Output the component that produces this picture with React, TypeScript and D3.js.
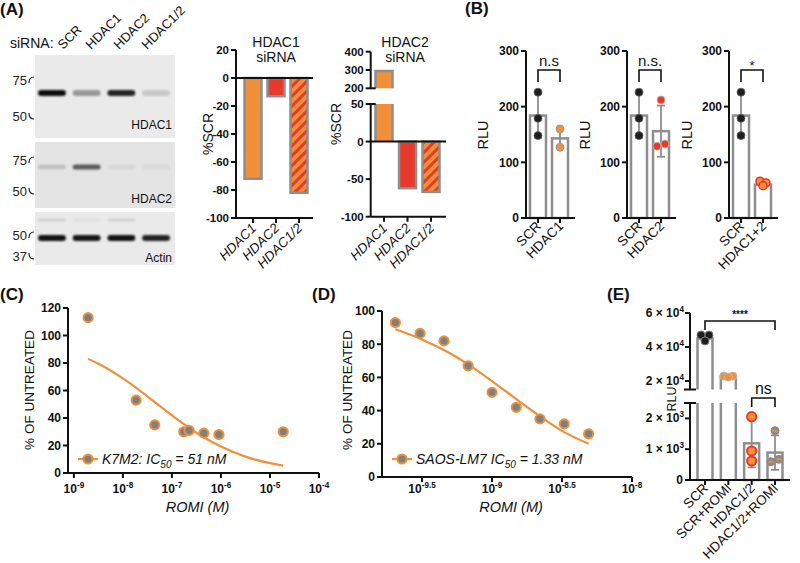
import React from "react";
import * as d3 from "d3";

const FONT = "'Liberation Sans', Arial, Helvetica, sans-serif";
const ORANGE = "#f0903a";
const RED = "#e8392b";
const GRAY = "#8e8e8e";
const INK = "#111";

// ---------- Panel A: western blot ----------
const blotLanes = ["SCR", "HDAC1", "HDAC2", "HDAC1/2"];
const hdac1BandIntensity = [0.95, 0.35, 0.85, 0.15];
const hdac2BandIntensity = [0.14, 0.6, 0.05, 0.04];
const actinBandIntensity = [0.92, 0.9, 0.92, 0.85];
const actinFaintBandIntensity = [0.12, 0.04, 0.1, 0.0];

// ---------- Panel A: knockdown bars ----------
const kdCategories = ["HDAC1", "HDAC2", "HDAC1/2"];
const hdac1SiRNAValues = [-72, -13, -82];
const hdac2SiRNAValues = [295, -62, -67];
const kd1Ticks = [20, 0, -20, -40, -60, -80, -100];
const kd2UpperTicks = [200, 300, 400];
const kd2LowerTicks = [-100, -50, 0, 50];

// ---------- Panel B ----------
const bCategories = [["SCR", "HDAC1"], ["SCR", "HDAC2"], ["SCR", "HDAC1+2"]];
const bScrPoints = [226, 179, 148];
const bKnockPoints = [[160, 127], [212, 129, 133], [66, 63, 58]];
const bMeans = [[184, 143], [184, 156], [184, 60]];
const bSD = [[40, 18], [40, 46], [40, 5]];
const bSignif = ["n.s", "n.s.", "*"];
const bTicks = [0, 100, 200, 300];

// ---------- Panel C ----------
const cConc = [1.95e-9, 1.86e-8, 4.47e-8, 1.74e-7, 2.24e-7, 4.47e-7, 9.1e-7, 1.86e-5];
const cViability = [113, 53, 35, 30, 31, 29, 28, 30];
const cFitConc = [1.95e-9, 3.16e-9, 1e-8, 3.16e-8, 1e-7, 3.16e-7, 1e-6, 3.16e-6, 1e-5, 1.86e-5];
const cFitValue = [83, 79.4, 68.8, 55.8, 42, 29.3, 19.2, 11.9, 7.2, 5.4];
const cXTicks = ["-9", "-8", "-7", "-6", "-5", "-4"];
const cYTicks = [0, 20, 40, 60, 80, 100, 120];

// ---------- Panel D ----------
const dConc = [2.04e-10, 3.06e-10, 4.54e-10, 6.75e-10, 1.0e-9, 1.49e-9, 2.2e-9, 3.28e-9, 4.9e-9];
const dViability = [93, 86.5, 82, 67, 51, 42, 35, 32, 26];
const dFitConc = [2.04e-10, 3.16e-10, 5.01e-10, 7.94e-10, 1.26e-9, 2.0e-9, 3.16e-9, 4.9e-9];
const dFitValue = [89, 82.9, 74.5, 63.8, 51.5, 39, 27.8, 20];
const dXTicks = ["-9.5", "-9", "-8.5", "-8"];
const dYTicks = [0, 20, 40, 60, 80, 100];

// ---------- Panel E ----------
const eCategories = ["SCR", "SCR+ROMI", "HDAC1/2", "HDAC1/2+ROMI"];
const eMeans = [45000, 22500, 1190, 890];
const eSD = [1500, 500, 780, 560];
const ePoints = [[47000, 47000, 43600], [22900, 22900, 22300], [2055, 942, 617], [1600, 672, 594]];
const eUpperTicks = [20000, 40000, 60000];
const eLowerTicks = [0, 1000, 2000];

const axisStroke = { stroke: INK, strokeWidth: 2, fill: "none" } as const;

function YTickLabel({ x, y, text, size = 11.5 }: { x: number; y: number; text: string; size?: number }) {
  return (
    <text x={x} y={y} dy="0.36em" textAnchor="end" fontSize={size} fontWeight="bold" fill={INK}>
      {text}
    </text>
  );
}

function Pow({ x, y, base, exp, size = 12, anchor = "middle" }: any) {
  return (
    <text x={x} y={y} textAnchor={anchor} fontSize={size} fontWeight="bold" fill={INK}>
      {base}
      <tspan dy={-size * 0.45} fontSize={size * 0.68}>{exp}</tspan>
    </text>
  );
}

function RotLabel({ x, y, text, size = 14, italic = false }: any) {
  return (
    <text transform={`translate(${x},${y}) rotate(-90)`} textAnchor="middle" fontSize={size} fontStyle={italic ? "italic" : "normal"} fill={INK}>
      {text}
    </text>
  );
}

function DiagLabel({ x, y, text, size = 13, italic = false }: any) {
  return (
    <text transform={`translate(${x},${y}) rotate(-45)`} textAnchor="end" fontSize={size} fontStyle={italic ? "italic" : "normal"} fill={INK}>
      {text}
    </text>
  );
}

// ---------- Panel A blot ----------
function Blot() {
  const lane = d3.scaleBand<string>().domain(blotLanes).range([36, 172]).paddingInner(0.08);
  const labelX = d3.scalePoint<string>().domain(blotLanes).range([63, 147]);
  const strips = [
    { y0: 55, y1: 138, fill: "#eaeaea", bands: [{ y: 93, h: 6, v: hdac1BandIntensity }], name: "HDAC1", nameY: 129,
      markers: [{ t: "75", y: 80, top: true }, { t: "50", y: 116, top: false }] },
    { y0: 142, y1: 208, fill: "#e4e4e4", bands: [{ y: 167, h: 5, v: hdac2BandIntensity }], name: "HDAC2", nameY: 203,
      markers: [{ t: "75", y: 160, top: true }, { t: "50", y: 191, top: false }] },
    { y0: 212, y1: 265, fill: "#eaeaea", bands: [{ y: 238, h: 6, v: actinBandIntensity }, { y: 220, h: 3, v: actinFaintBandIntensity }], name: "Actin", nameY: 262,
      markers: [{ t: "50", y: 235, top: true }, { t: "37", y: 256, top: false }] },
  ];
  return (
    <g>
      <text x={0} y={15} fontSize={17} fontWeight="bold" fill={INK}>(A)</text>
      <text x={10} y={48} fontSize={14} fill={INK}>siRNA:</text>
      {blotLanes.map((l) => (
        <text key={l} transform={`translate(${labelX(l)},${50}) rotate(-45)`} fontSize={13} fill={INK}>{l}</text>
      ))}
      {strips.map((s, si) => (
        <g key={si}>
          <rect x={35} y={s.y0} width={140} height={s.y1 - s.y0} fill={s.fill} />
          {s.bands.map((b, bi) =>
            blotLanes.map((l, li) => (
              <rect key={`${bi}-${li}`} x={(lane(l) as number) + 2} y={b.y - b.h / 2} width={lane.bandwidth() - 4} height={b.h} rx={b.h / 2}
                fill="#000" opacity={b.v[li]} filter="url(#blur)" />
            ))
          )}
          <text x={172} y={s.nameY} textAnchor="end" fontSize={12} fill={INK}>{s.name}</text>
          {s.markers.map((m, mi) => (
            <g key={mi}>
              <text x={27} y={m.y} dy="0.36em" textAnchor="end" fontSize={13} fill="#222">{m.t}</text>
              <path d={m.top ? `M29,${m.y + 3} Q29,${m.y - 3} 34,${m.y - 3}` : `M29,${m.y - 3} Q29,${m.y + 3} 34,${m.y + 3}`} stroke="#222" strokeWidth={1.2} fill="none" />
            </g>
          ))}
        </g>
      ))}
    </g>
  );
}

// ---------- Panel A knockdown charts ----------
function Knockdown() {
  const fills = [ORANGE, RED, "url(#stripes)"];
  const bw = 17;
  const ax1 = 236;
  const y1 = d3.scaleLinear().domain([-100, 20]).range([218, 50]);
  const x1 = d3.scalePoint<string>().domain(kdCategories).range([253, 299]);
  const ax2 = 370.7;
  const yU = d3.scaleLinear().domain([200, 400]).range([88.3, 51.7]);
  const yL = d3.scaleLinear().domain([-100, 50]).range([216.7, 104]);
  const x2 = d3.scalePoint<string>().domain(kdCategories).range([384, 431]);
  return (
    <g>
      <text x={276} y={47} textAnchor="middle" fontSize={14} fill={INK}>HDAC1</text>
      <text x={276} y={62} textAnchor="middle" fontSize={14} fill={INK}>siRNA</text>
      <RotLabel x={213} y={134} text="%SCR" />
      {hdac1SiRNAValues.map((v, i) => {
        const cx = x1(kdCategories[i]) as number;
        return <rect key={i} x={cx - bw / 2} y={y1(0)} width={bw} height={y1(v) - y1(0)} fill={fills[i]} stroke={GRAY} strokeWidth={2.5} />;
      })}
      <line x1={ax1} x2={313} y1={y1(0)} y2={y1(0)} {...axisStroke} />
      <line x1={ax1} x2={ax1} y1={y1(20)} y2={y1(-100)} {...axisStroke} />
      <line x1={ax1} x2={313} y1={y1(-100)} y2={y1(-100)} {...axisStroke} />
      {kd1Ticks.map((t) => (
        <g key={t}>
          <line x1={ax1 - 5} x2={ax1} y1={y1(t)} y2={y1(t)} {...axisStroke} />
          <YTickLabel x={ax1 - 7} y={y1(t)} text={String(t)} />
        </g>
      ))}
      {kdCategories.map((c) => (
        <g key={c}>
          <line x1={x1(c)} x2={x1(c)} y1={y1(-100)} y2={y1(-100) + 5} {...axisStroke} />
          <DiagLabel x={(x1(c) as number) + 4} y={229} text={c} size={13.5} italic />
        </g>
      ))}

      <text x={405} y={47} textAnchor="middle" fontSize={14} fill={INK}>HDAC2</text>
      <text x={405} y={62} textAnchor="middle" fontSize={14} fill={INK}>siRNA</text>
      <RotLabel x={341} y={124} text="%SCR" />
      {hdac2SiRNAValues.map((v, i) => {
        const cx = x2(kdCategories[i]) as number;
        const l = cx - bw / 2, r = cx + bw / 2;
        if (v > 50) {
          return (
            <g key={i}>
              <rect x={l} y={yU(v)} width={bw} height={yU(200) - yU(v)} fill={fills[i]} />
              <path d={`M${l},${yU(200)} V${yU(v)} H${r} V${yU(200)}`} stroke={GRAY} strokeWidth={2.5} fill="none" />
              <rect x={l} y={yL(50)} width={bw} height={yL(0) - yL(50)} fill={fills[i]} />
              <path d={`M${l},${yL(50)} V${yL(0)} M${r},${yL(50)} V${yL(0)}`} stroke={GRAY} strokeWidth={2.5} fill="none" />
            </g>
          );
        }
        return <rect key={i} x={l} y={yL(0)} width={bw} height={yL(v) - yL(0)} fill={fills[i]} stroke={GRAY} strokeWidth={2.5} />;
      })}
      <line x1={ax2} x2={446} y1={yL(0)} y2={yL(0)} {...axisStroke} />
      <line x1={ax2} x2={ax2} y1={yU(400)} y2={yU(200)} {...axisStroke} />
      <line x1={ax2} x2={ax2} y1={yL(50)} y2={yL(-100)} {...axisStroke} />
      <line x1={ax2} x2={446} y1={yL(-100)} y2={yL(-100)} {...axisStroke} />
      {kd2UpperTicks.map((t) => (
        <g key={t}>
          <line x1={ax2 - 5} x2={t === 200 ? ax2 + 5 : ax2} y1={yU(t)} y2={yU(t)} {...axisStroke} />
          <YTickLabel x={ax2 - 7} y={yU(t)} text={String(t)} />
        </g>
      ))}
      {kd2LowerTicks.map((t) => (
        <g key={t}>
          <line x1={ax2 - 5} x2={t === 50 ? ax2 + 5 : ax2} y1={yL(t)} y2={yL(t)} {...axisStroke} />
          <YTickLabel x={ax2 - 7} y={yL(t)} text={String(t)} />
        </g>
      ))}
      {kdCategories.map((c) => (
        <g key={c}>
          <line x1={x2(c)} x2={x2(c)} y1={yL(-100)} y2={yL(-100) + 5} {...axisStroke} />
          <DiagLabel x={(x2(c) as number) + 4} y={229} text={c} size={13.5} italic />
        </g>
      ))}
    </g>
  );
}

// ---------- Panel B ----------
function PanelB() {
  const axes = [526, 627, 729];
  const y = d3.scaleLinear().domain([0, 300]).range([218, 51]);
  const bw = 16;
  const knockStyle = [
    { fill: ORANGE, stroke: "#9a9a9a", sw: 1 },
    { fill: RED, stroke: "#c0c0c0", sw: 0.8 },
    { fill: ORANGE, stroke: RED, sw: 1.6 },
  ];
  const jitter = [[[0, 0, 0], [0, 0]], [[0, 0, 0], [0, -4, 4]], [[0, 0, 0], [-3, 3, 0]]];
  return (
    <g>
      <text x={465} y={14} fontSize={17} fontWeight="bold" fill={INK}>(B)</text>
      {axes.map((ax, gi) => {
        const x = d3.scalePoint<string>().domain(bCategories[gi]).range([ax + 12, ax + 34]);
        const pts = [bScrPoints, bKnockPoints[gi]];
        const c1 = x(bCategories[gi][0]) as number;
        const c2 = x(bCategories[gi][1]) as number;
        return (
          <g key={gi}>
            <RotLabel x={[488, 590, 692][gi]} y={135} text="RLU" size={14.5} />
            {bCategories[gi].map((c, ci) => {
              const cx = x(c) as number;
              const m = bMeans[gi][ci];
              const sd = bSD[gi][ci];
              return (
                <g key={c}>
                  <rect x={cx - bw / 2} y={y(m)} width={bw} height={y(0) - y(m)} fill="#fff" stroke={GRAY} strokeWidth={2.5} />
                  <line x1={cx} x2={cx} y1={y(m - sd)} y2={y(m + sd)} stroke={GRAY} strokeWidth={1.8} />
                  <line x1={cx - 4} x2={cx + 4} y1={y(m + sd)} y2={y(m + sd)} stroke={GRAY} strokeWidth={1.8} />
                  <line x1={cx - 4} x2={cx + 4} y1={y(m - sd)} y2={y(m - sd)} stroke={GRAY} strokeWidth={1.8} />
                  {pts[ci].map((p, pi) => (
                    <circle key={pi} cx={cx + jitter[gi][ci][pi]} cy={y(p)} r={4}
                      fill={ci === 0 ? "#1e1e1e" : knockStyle[gi].fill}
                      stroke={ci === 0 ? "#666" : knockStyle[gi].stroke}
                      strokeWidth={ci === 0 ? 0.8 : knockStyle[gi].sw} />
                  ))}
                </g>
              );
            })}
            <line x1={ax} x2={ax} y1={y(300)} y2={y(0)} {...axisStroke} />
            <line x1={ax} x2={ax + 49} y1={y(0)} y2={y(0)} {...axisStroke} />
            {bTicks.map((t) => (
              <g key={t}>
                <line x1={ax - 5} x2={ax} y1={y(t)} y2={y(t)} {...axisStroke} />
                <YTickLabel x={ax - 7} y={y(t)} text={String(t)} size={12} />
              </g>
            ))}
            {bCategories[gi].map((c) => (
              <g key={c}>
                <line x1={x(c)} x2={x(c)} y1={y(0)} y2={y(0) + 5} {...axisStroke} />
                <DiagLabel x={(x(c) as number) + 4} y={227} text={c} size={13.5} />
              </g>
            ))}
            <path d={`M${c1},82 V70 H${c2} V82`} stroke={INK} strokeWidth={1.6} fill="none" />
            <text x={(c1 + c2) / 2} y={gi === 2 ? 70 : 66} textAnchor="middle" fontSize={gi === 2 ? 13 : 15} fill={INK}>{bSignif[gi]}</text>
          </g>
        );
      })}
    </g>
  );
}

// ---------- Panels C and D (dose response) ----------
function DosePanel(props: {
  letter: string; letterX: number; x: d3.ScaleLogarithmic<number, number>; y: d3.ScaleLinear<number, number>;
  conc: number[]; vals: number[]; fitConc: number[]; fitVals: number[]; xTicks: string[]; yTicks: number[];
  ax: number; yLabelX: number; legendX: number; legendName: string; legendIC: string;
}) {
  const { x, y, ax } = props;
  const line = d3.line<number>().x((_, i) => x(props.fitConc[i])).y((v) => y(v)).curve(d3.curveMonotoneX);
  const [xr0, xr1] = x.range();
  const titleX = (xr0 + xr1) / 2 + 4;
  return (
    <g>
      <text x={props.letterX} y={300} fontSize={17} fontWeight="bold" fill={INK}>{props.letter}</text>
      <RotLabel x={props.yLabelX} y={390} text="% OF UNTREATED" size={13.5} />
      <path d={line(props.fitVals) || ""} stroke={ORANGE} strokeWidth={2.2} fill="none" />
      {props.vals.map((v, i) => (
        <circle key={i} cx={x(props.conc[i])} cy={y(v)} r={4.6} fill="#7f7f7f" stroke={ORANGE} strokeWidth={2} />
      ))}
      <line x1={ax} x2={ax} y1={y(props.yTicks[props.yTicks.length - 1])} y2={y(0)} {...axisStroke} />
      <line x1={ax} x2={xr1} y1={y(0)} y2={y(0)} {...axisStroke} />
      {props.yTicks.map((t) => (
        <g key={t}>
          <line x1={ax - 5} x2={ax} y1={y(t)} y2={y(t)} {...axisStroke} />
          <YTickLabel x={ax - 7} y={y(t)} text={String(t)} size={12} />
        </g>
      ))}
      {props.xTicks.map((e) => {
        const px = x(Math.pow(10, +e));
        return (
          <g key={e}>
            <line x1={px} x2={px} y1={y(0)} y2={y(0) + 5} {...axisStroke} />
            <Pow x={px} y={493} base="10" exp={e} size={12} />
          </g>
        );
      })}
      <text x={titleX} y={512} textAnchor="middle" fontSize={14.5} fontStyle="italic" fill={INK}>ROMI (M)</text>
      <line x1={props.legendX} x2={props.legendX + 20} y1={459} y2={459} stroke={ORANGE} strokeWidth={2.2} />
      <circle cx={props.legendX + 10} cy={459} r={4.6} fill="#7f7f7f" stroke={ORANGE} strokeWidth={2} />
      <text x={props.legendX + 24} y={464} fontSize={14} fontStyle="italic" fill={INK}>
        {props.legendName}IC<tspan dy={4} fontSize={10}>50</tspan><tspan dy={-4}>{` = ${props.legendIC}`}</tspan>
      </text>
    </g>
  );
}

function PanelC() {
  const x = d3.scaleLog().domain([Math.pow(10, -9.12), 1e-4]).range([68, 319]);
  const y = d3.scaleLinear().domain([0, 120]).range([473, 308]);
  return (
    <DosePanel letter="(C)" letterX={0} x={x} y={y} conc={cConc} vals={cViability} fitConc={cFitConc} fitVals={cFitValue}
      xTicks={cXTicks} yTicks={cYTicks} ax={68} yLabelX={34} legendX={78} legendName="K7M2: " legendIC="51 nM" />
  );
}

function PanelD() {
  const x = d3.scaleLog().domain([Math.pow(10, -9.786), 1e-8]).range([382, 632]);
  const y = d3.scaleLinear().domain([0, 100]).range([477, 311]);
  return (
    <DosePanel letter="(D)" letterX={312} x={x} y={y} conc={dConc} vals={dViability} fitConc={dFitConc} fitVals={dFitValue}
      xTicks={dXTicks} yTicks={dYTicks} ax={382} yLabelX={352} legendX={392} legendName="SAOS-LM7 " legendIC="1.33 nM" />
  );
}

// ---------- Panel E ----------
function PanelE() {
  const ax = 690;
  const yU = d3.scaleLinear().domain([15000, 60000]).range([389.5, 313]);
  const yL = d3.scaleLinear().domain([0, 2500]).range([480, 403]);
  const x = d3.scalePoint<string>().domain(eCategories).range([705, 775]);
  const bw = 15;
  const jitter = [[-4, 4, 0], [-4.5, 4.5, 0], [0, 0, 0], [0, 4, -4]];
  const ptStyle = [
    { fill: "#1e1e1e", stroke: "#777", sw: 1 },
    { fill: ORANGE, stroke: "#b8b8b8", sw: 1 },
    { fill: ORANGE, stroke: RED, sw: 2 },
    { fill: "#8a8a8a", stroke: "#8a8a8a", sw: 1 },
  ];
  const yAny = (v: number) => (v > 2500 ? yU(v) : yL(v));
  const fmtSup = (v: number) => {
    const e = Math.floor(Math.log10(v));
    return { m: Math.round(v / Math.pow(10, e)), e };
  };
  return (
    <g>
      <text x={607} y={300} fontSize={17} fontWeight="bold" fill={INK}>(E)</text>
      <RotLabel x={676} y={399} text="RLU" size={12.5} />
      {eCategories.map((c, i) => {
        const cx = x(c) as number;
        const l = cx - bw / 2, r = cx + bw / 2;
        const m = eMeans[i];
        const sd = eSD[i];
        return (
          <g key={c}>
            {m > 2500 ? (
              <g>
                <rect x={l} y={yU(m)} width={bw} height={yU(15000) - yU(m)} fill="#fff" />
                <path d={`M${l},${yU(15000)} V${yU(m)} H${r} V${yU(15000)}`} stroke={GRAY} strokeWidth={2.5} fill="none" />
                <path d={`M${l},${yL(2500)} V${yL(0)} M${r},${yL(2500)} V${yL(0)}`} stroke={GRAY} strokeWidth={2.5} fill="none" />
              </g>
            ) : (
              <rect x={l} y={yL(m)} width={bw} height={yL(0) - yL(m)} fill="#fff" stroke={GRAY} strokeWidth={2.5} />
            )}
            <line x1={cx} x2={cx} y1={yAny(m - sd)} y2={yAny(m + sd)} stroke={GRAY} strokeWidth={1.8} />
            <line x1={cx - 4} x2={cx + 4} y1={yAny(m + sd)} y2={yAny(m + sd)} stroke={GRAY} strokeWidth={1.8} />
            <line x1={cx - 4} x2={cx + 4} y1={yAny(m - sd)} y2={yAny(m - sd)} stroke={GRAY} strokeWidth={1.8} />
            {ePoints[i].map((p, pi) => (
              <g key={pi}>
                <circle cx={cx + jitter[i][pi]} cy={yAny(p)} r={i === 2 ? 4.6 : 4} fill={ptStyle[i].fill} stroke={ptStyle[i].stroke} strokeWidth={ptStyle[i].sw} />
                {i === 3 && <rect x={cx + jitter[i][pi] - 2.5} y={yAny(p) - 1} width={5} height={2} fill={ORANGE} />}
              </g>
            ))}
            <line x1={cx} x2={cx} y1={yL(0)} y2={yL(0) + 5} {...axisStroke} />
            <DiagLabel x={cx + 4} y={489} text={c} size={13.5} />
          </g>
        );
      })}
      <line x1={ax} x2={ax} y1={yU(60000)} y2={yU(15000)} {...axisStroke} />
      <line x1={ax} x2={ax} y1={yL(2500)} y2={yL(0)} {...axisStroke} />
      <line x1={ax} x2={790} y1={yL(0)} y2={yL(0)} {...axisStroke} />
      <line x1={ax - 6} x2={ax + 6} y1={yU(15000)} y2={yU(15000)} {...axisStroke} />
      <line x1={ax - 6} x2={ax + 6} y1={yL(2500)} y2={yL(2500)} {...axisStroke} />
      {eUpperTicks.map((t) => {
        const f = fmtSup(t);
        return (
          <g key={t}>
            <line x1={ax - 5} x2={ax} y1={yU(t)} y2={yU(t)} {...axisStroke} />
            <Pow x={ax - 6} y={yU(t) + 4} base={`${f.m} × 10`} exp={String(f.e)} size={12} anchor="end" />
          </g>
        );
      })}
      {eLowerTicks.map((t) => {
        if (t === 0) {
          return (
            <g key={t}>
              <line x1={ax - 5} x2={ax} y1={yL(t)} y2={yL(t)} {...axisStroke} />
              <YTickLabel x={ax - 7} y={yL(t)} text="0" size={12} />
            </g>
          );
        }
        const f = fmtSup(t);
        return (
          <g key={t}>
            <line x1={ax - 5} x2={ax} y1={yL(t)} y2={yL(t)} {...axisStroke} />
            <Pow x={ax - 6} y={yL(t) + 4} base={`${f.m} × 10`} exp={String(f.e)} size={12} anchor="end" />
          </g>
        );
      })}
      <path d={`M${x("SCR")},330 V321 H${x("HDAC1/2+ROMI")} V330`} stroke={INK} strokeWidth={1.6} fill="none" />
      <text x={((x("SCR") as number) + (x("HDAC1/2+ROMI") as number)) / 2} y={318} textAnchor="middle" fontSize={10} fontWeight="bold" fill={INK}>****</text>
      <path d={`M${x("HDAC1/2")},407 V398 H${x("HDAC1/2+ROMI")} V407`} stroke={INK} strokeWidth={1.6} fill="none" />
      <text x={((x("HDAC1/2") as number) + (x("HDAC1/2+ROMI") as number)) / 2} y={394} textAnchor="middle" fontSize={16} fill={INK}>ns</text>
    </g>
  );
}

export default function App() {
  return (
    <svg width={800} height={563} viewBox="0 0 800 563" style={{ position: "absolute", left: 0, top: 0, background: "#fff" }} fontFamily={FONT}>
      <defs>
        <pattern id="stripes" width="7" height="7" patternUnits="userSpaceOnUse" patternTransform="rotate(45)">
          <rect width="7" height="7" fill={ORANGE} />
          <rect width="3" height="7" fill={RED} />
        </pattern>
        <filter id="blur" x="-20%" y="-150%" width="140%" height="400%">
          <feGaussianBlur stdDeviation="1.3 1.1" />
        </filter>
      </defs>
      <rect width={800} height={563} fill="#fff" />
      <Blot />
      <Knockdown />
      <PanelB />
      <PanelC />
      <PanelD />
      <PanelE />
    </svg>
  );
}
